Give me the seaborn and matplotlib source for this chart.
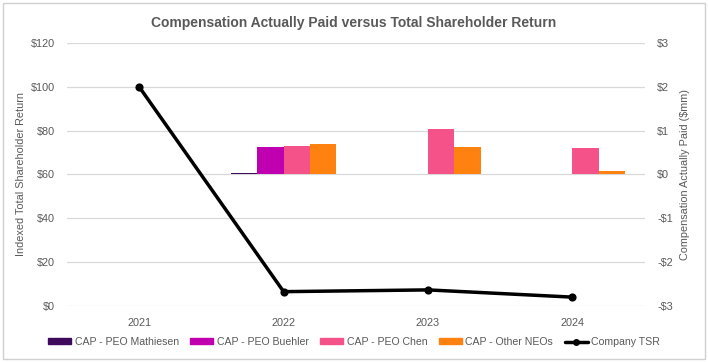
import matplotlib
matplotlib.use("Agg")
import matplotlib.pyplot as plt
import matplotlib.patches as mpatches
from matplotlib.lines import Line2D
from matplotlib.ticker import FuncFormatter
import numpy as np
import pandas as pd
import seaborn as sns

sns.set_theme(style="white")
plt.rcParams["font.family"] = ["Liberation Sans", "DejaVu Sans"]

years = ["2021", "2022", "2023", "2024"]
tsr = [100, 6.5, 7.3, 4.0]

series = ["CAP - PEO Mathiesen", "CAP - PEO Buehler", "CAP - PEO Chen", "CAP - Other NEOs"]
cap_mathiesen = [np.nan, 0.03, np.nan, np.nan]
cap_buehler = [np.nan, 0.62, np.nan, np.nan]
cap_chen = [np.nan, 0.66, 1.03, 0.60]
cap_other = [np.nan, 0.70, 0.62, 0.07]
colors = ["#3D0A5C", "#C000B0", "#F5528A", "#FF8210"]

cap = pd.DataFrame({
    "year": years * 4,
    "series": np.repeat(series, 4),
    "value": cap_mathiesen + cap_buehler + cap_chen + cap_other,
})

grey = "#595959"
fig = plt.figure(figsize=(7.08, 3.62), dpi=100)
ax = fig.add_axes([0.0946, 0.155, 0.816, 0.726])
ax2 = ax.twinx()

sns.barplot(data=cap, x="year", y="value", hue="series", order=years,
            hue_order=series, palette=colors, width=0.73, saturation=1,
            linewidth=0, ax=ax2, legend=False)
sns.pointplot(x=years, y=tsr, order=years, color="black", ax=ax,
              markers="o", markersize=4, linewidth=2.5)

ax.set_zorder(ax2.get_zorder() + 1)
ax.patch.set_visible(False)

ax.set_ylim(0, 120)
ax.set_yticks(range(0, 121, 20))
ax.yaxis.set_major_formatter(FuncFormatter(lambda v, p: f"${v:.0f}"))
ax2.set_ylim(-3, 3)
ax2.set_yticks(range(-3, 4))
ax2.yaxis.set_major_formatter(FuncFormatter(lambda v, p: f"${v:.0f}" if v >= 0 else f"-${-v:.0f}"))
ax.set_xlim(-0.5, 3.5)

ax.grid(False)
ax2.set_axisbelow(True)
ax2.grid(axis="y", color="#D9D9D9", linewidth=0.9)
ax2.grid(axis="x", visible=False)
for a in (ax, ax2):
    for s in a.spines.values():
        s.set_visible(False)
    a.tick_params(length=0, labelsize=7.8, colors=grey, pad=9)
    a.set_xlabel("")

ax.set_ylabel("Indexed Total Shareholder Return", fontsize=7.8, color=grey, labelpad=3)
ax2.set_ylabel("Compensation Actually Paid ($mm)", fontsize=7.8, color=grey, labelpad=5)
fig.suptitle("Compensation Actually Paid versus Total Shareholder Return",
             x=0.5, y=0.955, fontsize=10, fontweight="bold", color=grey)

handles = [mpatches.Patch(color=c, label=s) for c, s in zip(colors, series)]
handles.append(Line2D([], [], color="black", marker="o", markersize=4,
                      linewidth=2.5, label="Company TSR"))
fig.legend(handles=handles, loc="center", bbox_to_anchor=(0.5, 0.055), ncol=5,
           frameon=False, fontsize=7.6, labelcolor=grey, handlelength=2.2,
           handleheight=0.5, handletextpad=0.3, columnspacing=1.1)

fig.add_artist(mpatches.Rectangle((0.004, 0.008), 0.992, 0.984, transform=fig.transFigure,
                                  fill=False, edgecolor="#D0D0D0", linewidth=1))

fig.savefig("out.png", dpi=100)
